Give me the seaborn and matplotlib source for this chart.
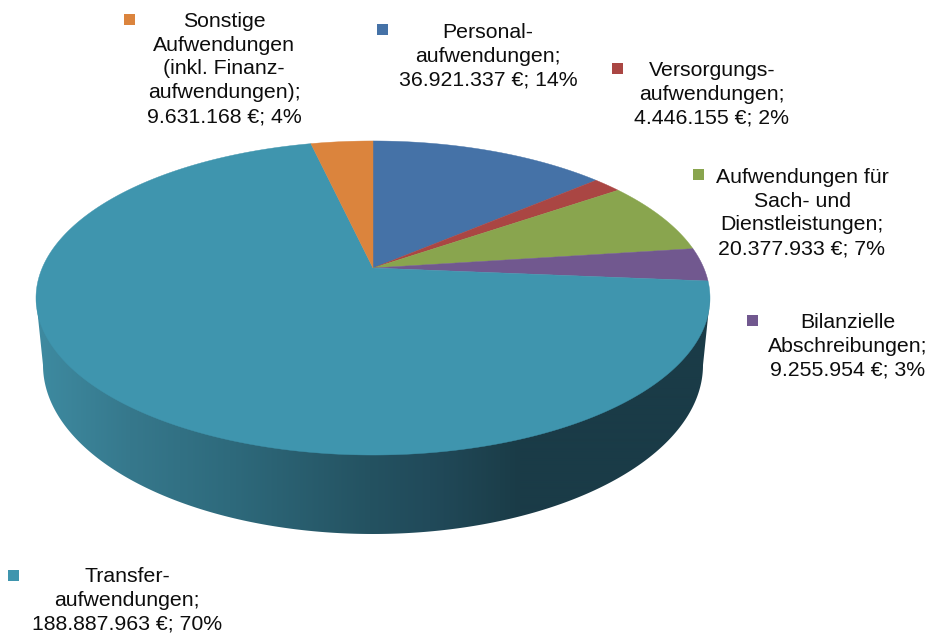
import numpy as np
import matplotlib
matplotlib.use("Agg")
import matplotlib.pyplot as plt
from matplotlib.patches import Polygon, Rectangle
import seaborn as sns

# Werte aus dem Diagramm
names = [
    "Personal-\naufwendungen",
    "Versorgungs-\naufwendungen",
    "Aufwendungen für\nSach- und\nDienstleistungen",
    "Bilanzielle\nAbschreibungen",
    "Transfer-\naufwendungen",
    "Sonstige\nAufwendungen\n(inkl. Finanz-\naufwendungen)",
]
values = [36921337, 4446155, 20377933, 9255954, 188887963, 9631168]
percents = [14, 2, 7, 3, 70, 4]
colors = ["#4572a7", "#aa4643", "#89a54e", "#71588f", "#3f95ae", "#db843d"]

# Position der Beschriftungen und Legendenfelder (Pixel)
label_xy = [(488, 56), (712, 94), (802, 213), (848, 346), (127, 600), (224, 69)]
key_xy = [(377, 24), (612, 63), (693, 169), (747, 315), (8, 570), (124, 14)]

# Geometrie der perspektivischen Torte
CX, CY = 373, 268
RX, RY = 330.8, 151.3
PERSP = 0.191


def project(theta):
    # Winkel im Uhrzeigersinn ab 12 Uhr -> Bildpunkt
    dx, dy = np.sin(theta), np.cos(theta)
    w = 1 + PERSP * dy
    return CX + RX * dx / w, CY - RY * dy / w


sns.set_theme(style="white")
plt.rcParams["font.family"] = ["Liberation Sans", "DejaVu Sans"]

fig = plt.figure(figsize=(9.33, 6.33), dpi=100)
ax = fig.add_axes([0, 0, 1, 1])
ax.set_xlim(0, 933)
ax.set_ylim(633, 0)
ax.axis("off")

# Seitenflaeche mit Farbverlauf
x_px = np.arange(30, 720)
stops_x = [36, 130, 230, 370, 430, 500, 520, 710]
stops_rgb = np.array([
    [0x3e, 0x8b, 0xa1], [0x36, 0x78, 0x8c], [0x2e, 0x6a, 0x7c], [0x24, 0x52, 0x61],
    [0x21, 0x4a, 0x5a], [0x1c, 0x3f, 0x4b], [0x1a, 0x3b, 0x47], [0x1a, 0x3b, 0x47],
]) / 255
grad = np.stack([np.interp(x_px, stops_x, stops_rgb[:, i]) for i in range(3)], axis=1)[None, :, :]

t = np.linspace(np.pi, 0, 300)
low_x = 373 + 330 * np.cos(t)
low_y = 365 + 169 * np.sin(t)
side = np.column_stack([
    np.r_[36, low_x, 710],
    np.r_[298, low_y, 298],
])
clip = Polygon(side, closed=True, transform=ax.transData, fc="none", ec="none")
ax.add_patch(clip)
im = ax.imshow(grad, extent=(30, 720, 560, 280), aspect="auto", interpolation="bilinear", zorder=1)
im.set_clip_path(clip)
ax.set_xlim(0, 933)
ax.set_ylim(633, 0)

# Deckflaeche aus den Werten
palette = sns.color_palette(colors)
edges = np.r_[0, np.cumsum(values)] / np.sum(values) * 2 * np.pi
for i in range(len(values)):
    n = max(int((edges[i + 1] - edges[i]) * 80), 6)
    px, py = project(np.linspace(edges[i], edges[i + 1], n))
    ax.fill(np.r_[CX, px], np.r_[CY, py], color=palette[i], lw=0.3, zorder=2)

# Beschriftung mit Legendenfeld
for i, name in enumerate(names):
    amount = f"{values[i]:,}".replace(",", ".")
    ax.text(label_xy[i][0], label_xy[i][1], f"{name};\n{amount} €; {percents[i]}%",
            ha="center", va="center", ma="center", fontsize=15.35,
            linespacing=1.33, color="#0d0d0d", zorder=3)
    ax.add_patch(Rectangle(key_xy[i], 11, 11, fc=palette[i], ec="none", zorder=3))

fig.savefig("out.png", dpi=100, facecolor="white")
